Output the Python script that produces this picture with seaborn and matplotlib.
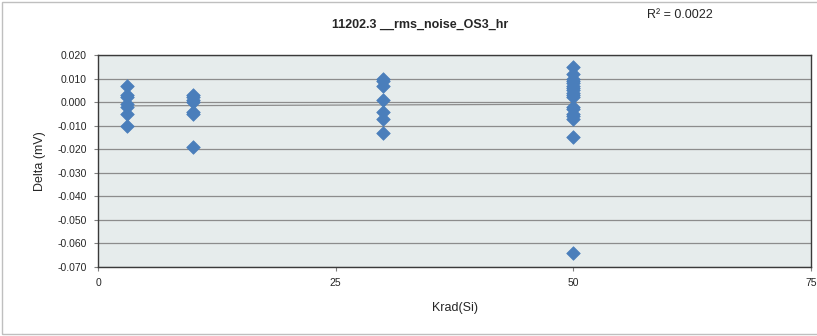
import numpy as np
import pandas as pd
import matplotlib
matplotlib.use("Agg")
import matplotlib.pyplot as plt
import seaborn as sns
from matplotlib.patches import Rectangle

# Data
x_3 = [3] * 7
y_3 = [0.007, 0.003, 0.002, -0.001, -0.002, -0.005, -0.010]
x_10 = [10] * 7
y_10 = [0.003, 0.002, 0.001, 0.000, -0.004, -0.005, -0.019]
x_30 = [30] * 7
y_30 = [0.010, 0.009, 0.007, 0.001, -0.004, -0.007, -0.013]
x_50 = [50] * 18
y_50 = [0.015, 0.012, 0.010, 0.009, 0.008, 0.007, 0.006, 0.005, 0.004,
        0.003, 0.002, -0.002, -0.003, -0.005, -0.006, -0.007, -0.015, -0.064]

title = "11202.3 __rms_noise_OS3_hr"
r2_label = "R\u00b2 = 0.0022"
x_label = "Krad(Si)"
y_label = "Delta (mV)"
x_ticks = [0, 25, 50, 75]
y_ticks = [0.020, 0.010, 0.000, -0.010, -0.020, -0.030, -0.040, -0.050, -0.060, -0.070]

df = pd.DataFrame({"x": x_3 + x_10 + x_30 + x_50,
                   "y": y_3 + y_10 + y_30 + y_50})

sns.set_theme(style="white")
plt.rcParams["font.family"] = ["Liberation Sans", "DejaVu Sans"]

fig = plt.figure(figsize=(8.17, 3.36), dpi=100)
ax = fig.add_axes([98 / 817, 1 - 267 / 336, (811 - 98) / 817, (267 - 55) / 336])
ax.set_facecolor("#E6ECEC")

for yt in y_ticks:
    ax.axhline(yt, color="#8C8C8C", lw=0.9, zorder=0)

sns.regplot(data=df, x="x", y="y", ax=ax, scatter=False, ci=None, truncate=True,
            line_kws=dict(color="#8C8C8C", lw=0.9, zorder=2))
sns.scatterplot(data=df, x="x", y="y", ax=ax, marker="D", s=48,
                color="#4A7EBB", edgecolor="#4A7EBB", linewidth=0.5, zorder=3)

ax.set_xlim(0, 75)
ax.set_ylim(-0.070, 0.020)
ax.set_xticks(x_ticks)
ax.set_xticklabels([str(t) for t in x_ticks], fontsize=7.5)
ax.set_yticks(y_ticks)
ax.set_yticklabels([f"{t:.3f}" for t in y_ticks], fontsize=7.5)
ax.tick_params(axis="both", direction="out", length=3, width=0.8, color="#808080",
               pad=5, bottom=True, left=True)
ax.set_xlabel(x_label, fontsize=9, labelpad=10)
ax.set_ylabel(y_label, fontsize=9, labelpad=8)
for side in ["left", "right", "top", "bottom"]:
    ax.spines[side].set_visible(True)
    ax.spines[side].set_color("#3A3A3A")
    ax.spines[side].set_linewidth(1.0)

fig.text(420 / 817, 1 - 25 / 336, title, ha="center", va="center",
         fontsize=9, fontweight="bold")
fig.text(680 / 817, 1 - 15 / 336, r2_label, ha="center", va="center", fontsize=9)

fig.patches.append(Rectangle((0.002, 0.006), 1.2, 0.988, transform=fig.transFigure,
                             fill=False, edgecolor="#BFBFBF", lw=1.0))

fig.savefig("out.png", dpi=100)
